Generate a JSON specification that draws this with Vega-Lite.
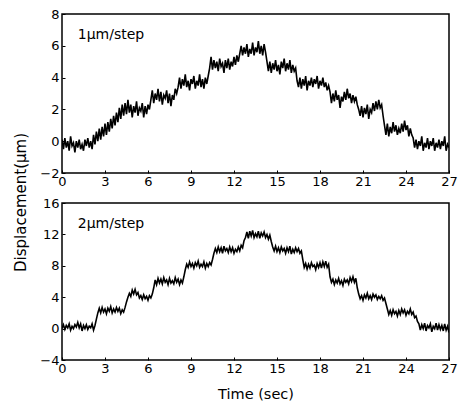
{
  "$schema": "https://vega.github.io/schema/vega-lite/v6.json",
  "background": "white",
  "padding": {"left": 12, "top": 7, "right": 10, "bottom": 5},
  "spacing": 30,
  "bounds": "flush",
  "config": {
    "font": "DejaVu Sans",
    "view": {"stroke": "black", "strokeWidth": 1.5},
    "axis": {
      "domain": false,
      "grid": false,
      "ticks": true,
      "tickSize": -3,
      "tickColor": "black",
      "tickCount": 10,
      "labelColor": "black",
      "labelOverlap": false,
      "labelFont": "DejaVu Sans",
      "labelFontSize": 13,
      "titleFont": "DejaVu Sans",
      "titleFontSize": 14.5,
      "titleFontWeight": "normal",
      "titleColor": "black"
    }
  },
  "datasets": {
    "a": [
      {"t":0.0,"y":0.1},{"t":0.1,"y":-0.5},{"t":0.2,"y":0.2},{"t":0.3,"y":-0.4},{"t":0.4,"y":0.0},{"t":0.5,"y":-0.6},{"t":0.6,"y":0.3},{"t":0.7,"y":-0.3},{"t":0.8,"y":-0.1},{"t":0.9,"y":-0.7},
      {"t":1.0,"y":0.0},{"t":1.1,"y":-0.4},{"t":1.2,"y":0.1},{"t":1.3,"y":-0.5},{"t":1.4,"y":-0.2},{"t":1.5,"y":-0.6},{"t":1.6,"y":0.1},{"t":1.7,"y":-0.3},{"t":1.8,"y":0.2},{"t":1.9,"y":-0.4},
      {"t":2.0,"y":0.0},{"t":2.1,"y":-0.5},{"t":2.2,"y":0.4},{"t":2.3,"y":-0.2},{"t":2.4,"y":0.6},{"t":2.5,"y":0.0},{"t":2.6,"y":0.8},{"t":2.7,"y":0.1},{"t":2.8,"y":0.9},{"t":2.9,"y":0.3},
      {"t":3.0,"y":1.1},{"t":3.1,"y":0.4},{"t":3.2,"y":1.2},{"t":3.3,"y":0.6},{"t":3.4,"y":1.4},{"t":3.5,"y":0.8},{"t":3.6,"y":1.6},{"t":3.7,"y":1.0},{"t":3.8,"y":1.8},{"t":3.9,"y":1.2},
      {"t":4.0,"y":2.1},{"t":4.1,"y":1.4},{"t":4.2,"y":2.3},{"t":4.3,"y":1.6},{"t":4.4,"y":2.4},{"t":4.5,"y":1.7},{"t":4.6,"y":2.6},{"t":4.7,"y":1.8},{"t":4.8,"y":2.3},{"t":4.9,"y":1.5},
      {"t":5.0,"y":2.2},{"t":5.1,"y":1.8},{"t":5.2,"y":2.5},{"t":5.3,"y":1.6},{"t":5.4,"y":2.1},{"t":5.5,"y":1.9},{"t":5.6,"y":2.4},{"t":5.7,"y":1.5},{"t":5.8,"y":2.2},{"t":5.9,"y":1.7},
      {"t":6.0,"y":2.3},{"t":6.1,"y":2.0},{"t":6.2,"y":2.6},{"t":6.3,"y":3.2},{"t":6.4,"y":2.4},{"t":6.5,"y":3.0},{"t":6.6,"y":2.6},{"t":6.7,"y":3.3},{"t":6.8,"y":2.5},{"t":6.9,"y":3.1},
      {"t":7.0,"y":2.3},{"t":7.1,"y":2.9},{"t":7.2,"y":2.7},{"t":7.3,"y":3.2},{"t":7.4,"y":2.4},{"t":7.5,"y":3.0},{"t":7.6,"y":2.2},{"t":7.7,"y":2.9},{"t":7.8,"y":2.6},{"t":7.9,"y":3.3},
      {"t":8.0,"y":3.0},{"t":8.1,"y":3.4},{"t":8.2,"y":4.0},{"t":8.3,"y":3.3},{"t":8.4,"y":3.9},{"t":8.5,"y":3.5},{"t":8.6,"y":4.2},{"t":8.7,"y":3.4},{"t":8.8,"y":3.8},{"t":8.9,"y":3.2},
      {"t":9.0,"y":3.9},{"t":9.1,"y":3.6},{"t":9.2,"y":4.1},{"t":9.3,"y":3.3},{"t":9.4,"y":3.8},{"t":9.5,"y":3.5},{"t":9.6,"y":4.2},{"t":9.7,"y":3.4},{"t":9.8,"y":3.9},{"t":9.9,"y":3.3},
      {"t":10.0,"y":4.0},{"t":10.1,"y":3.6},{"t":10.2,"y":4.1},{"t":10.3,"y":4.6},{"t":10.4,"y":5.3},{"t":10.5,"y":4.5},{"t":10.6,"y":5.1},{"t":10.7,"y":4.6},{"t":10.8,"y":5.0},{"t":10.9,"y":4.4},
      {"t":11.0,"y":5.2},{"t":11.1,"y":4.7},{"t":11.2,"y":4.9},{"t":11.3,"y":4.3},{"t":11.4,"y":5.1},{"t":11.5,"y":4.6},{"t":11.6,"y":5.2},{"t":11.7,"y":4.5},{"t":11.8,"y":5.0},{"t":11.9,"y":4.7},
      {"t":12.0,"y":5.3},{"t":12.1,"y":4.8},{"t":12.2,"y":5.4},{"t":12.3,"y":5.0},{"t":12.4,"y":5.5},{"t":12.5,"y":6.0},{"t":12.6,"y":5.4},{"t":12.7,"y":5.9},{"t":12.8,"y":5.5},{"t":12.9,"y":6.1},
      {"t":13.0,"y":5.3},{"t":13.1,"y":5.8},{"t":13.2,"y":5.5},{"t":13.3,"y":6.2},{"t":13.4,"y":5.4},{"t":13.5,"y":5.9},{"t":13.6,"y":5.6},{"t":13.7,"y":6.3},{"t":13.8,"y":5.5},{"t":13.9,"y":6.0},
      {"t":14.0,"y":5.4},{"t":14.1,"y":6.1},{"t":14.2,"y":5.6},{"t":14.3,"y":5.0},{"t":14.4,"y":4.4},{"t":14.5,"y":5.0},{"t":14.6,"y":4.3},{"t":14.7,"y":4.9},{"t":14.8,"y":4.5},{"t":14.9,"y":5.1},
      {"t":15.0,"y":4.4},{"t":15.1,"y":4.8},{"t":15.2,"y":4.2},{"t":15.3,"y":5.0},{"t":15.4,"y":4.6},{"t":15.5,"y":5.2},{"t":15.6,"y":4.4},{"t":15.7,"y":4.9},{"t":15.8,"y":4.5},{"t":15.9,"y":5.1},
      {"t":16.0,"y":4.3},{"t":16.1,"y":4.8},{"t":16.2,"y":4.4},{"t":16.3,"y":4.6},{"t":16.4,"y":3.8},{"t":16.5,"y":3.4},{"t":16.6,"y":4.0},{"t":16.7,"y":3.3},{"t":16.8,"y":3.9},{"t":16.9,"y":3.5},
      {"t":17.0,"y":4.1},{"t":17.1,"y":3.2},{"t":17.2,"y":3.8},{"t":17.3,"y":3.5},{"t":17.4,"y":4.0},{"t":17.5,"y":3.4},{"t":17.6,"y":3.9},{"t":17.7,"y":3.6},{"t":17.8,"y":4.1},{"t":17.9,"y":3.3},
      {"t":18.0,"y":3.8},{"t":18.1,"y":3.5},{"t":18.2,"y":4.0},{"t":18.3,"y":3.4},{"t":18.4,"y":3.7},{"t":18.5,"y":3.2},{"t":18.6,"y":3.5},{"t":18.7,"y":3.1},{"t":18.8,"y":2.4},{"t":18.9,"y":3.0},
      {"t":19.0,"y":2.5},{"t":19.1,"y":3.2},{"t":19.2,"y":2.6},{"t":19.3,"y":2.9},{"t":19.4,"y":2.1},{"t":19.5,"y":2.8},{"t":19.6,"y":2.5},{"t":19.7,"y":3.1},{"t":19.8,"y":2.6},{"t":19.9,"y":3.3},
      {"t":20.0,"y":2.7},{"t":20.1,"y":3.0},{"t":20.2,"y":2.4},{"t":20.3,"y":2.9},{"t":20.4,"y":2.5},{"t":20.5,"y":2.8},{"t":20.6,"y":2.3},{"t":20.7,"y":2.0},{"t":20.8,"y":1.6},{"t":20.9,"y":2.2},
      {"t":21.0,"y":1.5},{"t":21.1,"y":2.1},{"t":21.2,"y":1.7},{"t":21.3,"y":2.3},{"t":21.4,"y":1.4},{"t":21.5,"y":2.0},{"t":21.6,"y":1.8},{"t":21.7,"y":2.4},{"t":21.8,"y":1.9},{"t":21.9,"y":2.5},
      {"t":22.0,"y":2.0},{"t":22.1,"y":2.6},{"t":22.2,"y":2.1},{"t":22.3,"y":2.3},{"t":22.4,"y":1.6},{"t":22.5,"y":1.0},{"t":22.6,"y":0.4},{"t":22.7,"y":1.1},{"t":22.8,"y":0.3},{"t":22.9,"y":0.9},
      {"t":23.0,"y":0.5},{"t":23.1,"y":1.2},{"t":23.2,"y":0.6},{"t":23.3,"y":1.0},{"t":23.4,"y":0.4},{"t":23.5,"y":0.8},{"t":23.6,"y":0.5},{"t":23.7,"y":1.1},{"t":23.8,"y":0.6},{"t":23.9,"y":1.3},
      {"t":24.0,"y":0.7},{"t":24.1,"y":1.0},{"t":24.2,"y":0.3},{"t":24.3,"y":0.8},{"t":24.4,"y":0.4},{"t":24.5,"y":0.2},{"t":24.6,"y":-0.4},{"t":24.7,"y":0.1},{"t":24.8,"y":-0.5},{"t":24.9,"y":0.0},
      {"t":25.0,"y":-0.3},{"t":25.1,"y":0.3},{"t":25.2,"y":-0.6},{"t":25.3,"y":-0.1},{"t":25.4,"y":-0.4},{"t":25.5,"y":0.2},{"t":25.6,"y":-0.5},{"t":25.7,"y":0.0},{"t":25.8,"y":-0.3},{"t":25.9,"y":0.2},
      {"t":26.0,"y":-0.6},{"t":26.1,"y":-0.1},{"t":26.2,"y":-0.4},{"t":26.3,"y":0.1},{"t":26.4,"y":-0.5},{"t":26.5,"y":0.0},{"t":26.6,"y":-0.3},{"t":26.7,"y":0.3},{"t":26.8,"y":-0.6},{"t":26.9,"y":-0.2},
      {"t":27.0,"y":-0.4}
    ],
    "b": [
      {"t":0.0,"y":0.0},{"t":0.1,"y":0.5},{"t":0.2,"y":-0.1},{"t":0.3,"y":0.4},{"t":0.4,"y":0.1},{"t":0.5,"y":0.6},{"t":0.6,"y":-0.2},{"t":0.7,"y":0.3},{"t":0.8,"y":0.0},{"t":0.9,"y":0.5},
      {"t":1.0,"y":0.2},{"t":1.1,"y":0.8},{"t":1.2,"y":0.1},{"t":1.3,"y":0.6},{"t":1.4,"y":-0.3},{"t":1.5,"y":0.4},{"t":1.6,"y":0.0},{"t":1.7,"y":0.5},{"t":1.8,"y":-0.1},{"t":1.9,"y":0.3},
      {"t":2.0,"y":0.1},{"t":2.1,"y":0.6},{"t":2.2,"y":-0.2},{"t":2.3,"y":0.4},{"t":2.4,"y":1.2},{"t":2.5,"y":2.0},{"t":2.6,"y":2.6},{"t":2.7,"y":2.0},{"t":2.8,"y":2.7},{"t":2.9,"y":2.1},
      {"t":3.0,"y":2.5},{"t":3.1,"y":1.9},{"t":3.2,"y":2.6},{"t":3.3,"y":2.2},{"t":3.4,"y":2.8},{"t":3.5,"y":2.0},{"t":3.6,"y":2.5},{"t":3.7,"y":2.1},{"t":3.8,"y":2.7},{"t":3.9,"y":2.2},
      {"t":4.0,"y":2.6},{"t":4.1,"y":1.9},{"t":4.2,"y":2.4},{"t":4.3,"y":2.1},{"t":4.4,"y":2.7},{"t":4.5,"y":3.4},{"t":4.6,"y":4.0},{"t":4.7,"y":4.5},{"t":4.8,"y":4.1},{"t":4.9,"y":4.9},
      {"t":5.0,"y":4.4},{"t":5.1,"y":5.0},{"t":5.2,"y":4.3},{"t":5.3,"y":4.6},{"t":5.4,"y":3.9},{"t":5.5,"y":4.2},{"t":5.6,"y":3.7},{"t":5.7,"y":4.3},{"t":5.8,"y":3.8},{"t":5.9,"y":4.1},
      {"t":6.0,"y":3.6},{"t":6.1,"y":4.2},{"t":6.2,"y":3.9},{"t":6.3,"y":4.4},{"t":6.4,"y":5.2},{"t":6.5,"y":6.2},{"t":6.6,"y":5.6},{"t":6.7,"y":6.4},{"t":6.8,"y":5.8},{"t":6.9,"y":6.3},
      {"t":7.0,"y":5.7},{"t":7.1,"y":6.5},{"t":7.2,"y":5.9},{"t":7.3,"y":6.2},{"t":7.4,"y":5.6},{"t":7.5,"y":6.4},{"t":7.6,"y":5.8},{"t":7.7,"y":6.1},{"t":7.8,"y":5.7},{"t":7.9,"y":6.5},
      {"t":8.0,"y":5.9},{"t":8.1,"y":6.3},{"t":8.2,"y":5.6},{"t":8.3,"y":6.2},{"t":8.4,"y":5.8},{"t":8.5,"y":6.6},{"t":8.6,"y":7.5},{"t":8.7,"y":8.2},{"t":8.8,"y":7.8},{"t":8.9,"y":8.5},
      {"t":9.0,"y":7.9},{"t":9.1,"y":8.3},{"t":9.2,"y":7.7},{"t":9.3,"y":8.4},{"t":9.4,"y":8.0},{"t":9.5,"y":8.6},{"t":9.6,"y":7.8},{"t":9.7,"y":8.2},{"t":9.8,"y":7.9},{"t":9.9,"y":8.5},
      {"t":10.0,"y":7.7},{"t":10.1,"y":8.3},{"t":10.2,"y":7.9},{"t":10.3,"y":8.4},{"t":10.4,"y":8.1},{"t":10.5,"y":8.8},{"t":10.6,"y":9.6},{"t":10.7,"y":10.2},{"t":10.8,"y":9.7},{"t":10.9,"y":10.4},
      {"t":11.0,"y":9.8},{"t":11.1,"y":10.3},{"t":11.2,"y":9.6},{"t":11.3,"y":10.5},{"t":11.4,"y":9.9},{"t":11.5,"y":10.2},{"t":11.6,"y":9.7},{"t":11.7,"y":10.4},{"t":11.8,"y":9.8},{"t":11.9,"y":10.3},
      {"t":12.0,"y":9.6},{"t":12.1,"y":10.1},{"t":12.2,"y":9.8},{"t":12.3,"y":10.4},{"t":12.4,"y":9.9},{"t":12.5,"y":10.6},{"t":12.6,"y":10.3},{"t":12.7,"y":11.2},{"t":12.8,"y":11.6},{"t":12.9,"y":12.3},
      {"t":13.0,"y":11.5},{"t":13.1,"y":12.4},{"t":13.2,"y":11.8},{"t":13.3,"y":12.5},{"t":13.4,"y":11.6},{"t":13.5,"y":12.1},{"t":13.6,"y":11.7},{"t":13.7,"y":12.4},{"t":13.8,"y":11.5},{"t":13.9,"y":12.2},
      {"t":14.0,"y":11.8},{"t":14.1,"y":12.3},{"t":14.2,"y":11.6},{"t":14.3,"y":12.0},{"t":14.4,"y":11.4},{"t":14.5,"y":11.9},{"t":14.6,"y":11.1},{"t":14.7,"y":10.4},{"t":14.8,"y":9.9},{"t":14.9,"y":10.5},
      {"t":15.0,"y":9.8},{"t":15.1,"y":10.3},{"t":15.2,"y":9.7},{"t":15.3,"y":10.4},{"t":15.4,"y":9.9},{"t":15.5,"y":10.2},{"t":15.6,"y":9.6},{"t":15.7,"y":10.3},{"t":15.8,"y":9.8},{"t":15.9,"y":10.5},
      {"t":16.0,"y":9.5},{"t":16.1,"y":10.1},{"t":16.2,"y":9.7},{"t":16.3,"y":10.3},{"t":16.4,"y":9.8},{"t":16.5,"y":10.2},{"t":16.6,"y":9.6},{"t":16.7,"y":9.9},{"t":16.8,"y":8.8},{"t":16.9,"y":7.8},
      {"t":17.0,"y":8.3},{"t":17.1,"y":7.6},{"t":17.2,"y":8.2},{"t":17.3,"y":7.7},{"t":17.4,"y":8.4},{"t":17.5,"y":7.9},{"t":17.6,"y":8.1},{"t":17.7,"y":7.5},{"t":17.8,"y":8.3},{"t":17.9,"y":7.8},
      {"t":18.0,"y":8.4},{"t":18.1,"y":7.7},{"t":18.2,"y":8.5},{"t":18.3,"y":7.9},{"t":18.4,"y":8.6},{"t":18.5,"y":7.8},{"t":18.6,"y":8.2},{"t":18.7,"y":6.6},{"t":18.8,"y":5.9},{"t":18.9,"y":6.3},
      {"t":19.0,"y":5.6},{"t":19.1,"y":6.2},{"t":19.2,"y":5.8},{"t":19.3,"y":6.4},{"t":19.4,"y":5.7},{"t":19.5,"y":6.1},{"t":19.6,"y":5.5},{"t":19.7,"y":6.3},{"t":19.8,"y":5.9},{"t":19.9,"y":6.2},
      {"t":20.0,"y":5.7},{"t":20.1,"y":6.5},{"t":20.2,"y":6.0},{"t":20.3,"y":6.6},{"t":20.4,"y":5.9},{"t":20.5,"y":6.4},{"t":20.6,"y":5.2},{"t":20.7,"y":4.4},{"t":20.8,"y":3.8},{"t":20.9,"y":4.2},
      {"t":21.0,"y":3.6},{"t":21.1,"y":4.3},{"t":21.2,"y":3.9},{"t":21.3,"y":4.5},{"t":21.4,"y":3.8},{"t":21.5,"y":4.2},{"t":21.6,"y":3.7},{"t":21.7,"y":4.4},{"t":21.8,"y":4.0},{"t":21.9,"y":4.3},
      {"t":22.0,"y":3.7},{"t":22.1,"y":4.1},{"t":22.2,"y":3.8},{"t":22.3,"y":4.2},{"t":22.4,"y":3.6},{"t":22.5,"y":3.9},{"t":22.6,"y":3.2},{"t":22.7,"y":2.5},{"t":22.8,"y":1.8},{"t":22.9,"y":2.3},
      {"t":23.0,"y":1.7},{"t":23.1,"y":2.4},{"t":23.2,"y":1.9},{"t":23.3,"y":2.2},{"t":23.4,"y":1.6},{"t":23.5,"y":2.3},{"t":23.6,"y":1.8},{"t":23.7,"y":2.5},{"t":23.8,"y":2.0},{"t":23.9,"y":2.4},
      {"t":24.0,"y":1.7},{"t":24.1,"y":2.2},{"t":24.2,"y":1.9},{"t":24.3,"y":2.5},{"t":24.4,"y":1.8},{"t":24.5,"y":2.1},{"t":24.6,"y":1.4},{"t":24.7,"y":1.6},{"t":24.8,"y":0.9},{"t":24.9,"y":0.6},
      {"t":25.0,"y":-0.2},{"t":25.1,"y":0.5},{"t":25.2,"y":0.0},{"t":25.3,"y":0.7},{"t":25.4,"y":-0.3},{"t":25.5,"y":0.4},{"t":25.6,"y":0.1},{"t":25.7,"y":0.6},{"t":25.8,"y":-0.4},{"t":25.9,"y":0.3},
      {"t":26.0,"y":0.0},{"t":26.1,"y":0.7},{"t":26.2,"y":-0.2},{"t":26.3,"y":0.5},{"t":26.4,"y":-0.1},{"t":26.5,"y":0.4},{"t":26.6,"y":-0.3},{"t":26.7,"y":0.6},{"t":26.8,"y":-0.2},{"t":26.9,"y":0.3},
      {"t":27.0,"y":-0.5}
    ]
  },
  "vconcat": [
    {
      "width": 387,
      "height": 159,
      "layer": [
        {
          "data": {"name": "a"},
          "mark": {"type": "line", "color": "black", "strokeWidth": 1.6, "clip": true},
          "encoding": {
            "x": {"field": "t", "type": "quantitative", "scale": {"domain": [0, 27], "nice": false},
              "axis": {"values": [0,3,6,9,12,15,18,21,24,27], "tickCount": 10, "title": null, "labelPadding": 5, "labelFlush": false}},
            "y": {"field": "y", "type": "quantitative", "scale": {"domain": [-2, 8], "nice": false, "zero": false},
              "axis": {"values": [-2,0,2,4,6,8], "tickCount": 6, "labelOverlap": false, "title": "Displacement(μm)", "labelPadding": 6, "titleX": -42, "titleY": 188, "titleAngle": -90, "titleAlign": "center", "titleBaseline": "middle", "titleFontSize": 15}}
          }
        },
        {
          "data": {"values": [{"t": 1.1, "y": 6.7, "label": "1μm/step"}]},
          "mark": {"type": "text", "align": "left", "baseline": "middle", "fontSize": 14, "font": "DejaVu Sans", "color": "black"},
          "encoding": {
            "x": {"field": "t", "type": "quantitative"},
            "y": {"field": "y", "type": "quantitative"},
            "text": {"field": "label"}
          }
        }
      ]
    },
    {
      "width": 387,
      "height": 157,
      "layer": [
        {
          "data": {"name": "b"},
          "mark": {"type": "line", "color": "black", "strokeWidth": 1.6, "clip": true},
          "encoding": {
            "x": {"field": "t", "type": "quantitative", "scale": {"domain": [0, 27], "nice": false},
              "axis": {"values": [0,3,6,9,12,15,18,21,24,27], "tickCount": 10, "title": "Time (sec)", "labelPadding": 5, "labelFlush": false, "titlePadding": 12}},
            "y": {"field": "y", "type": "quantitative", "scale": {"domain": [-4, 16], "nice": false, "zero": false},
              "axis": {"values": [-4,0,4,8,12,16], "tickCount": 6, "labelOverlap": false, "title": null, "labelPadding": 6}}
          }
        },
        {
          "data": {"values": [{"t": 1.1, "y": 13.3, "label": "2μm/step"}]},
          "mark": {"type": "text", "align": "left", "baseline": "middle", "fontSize": 14, "font": "DejaVu Sans", "color": "black"},
          "encoding": {
            "x": {"field": "t", "type": "quantitative"},
            "y": {"field": "y", "type": "quantitative"},
            "text": {"field": "label"}
          }
        }
      ]
    }
  ]
}
